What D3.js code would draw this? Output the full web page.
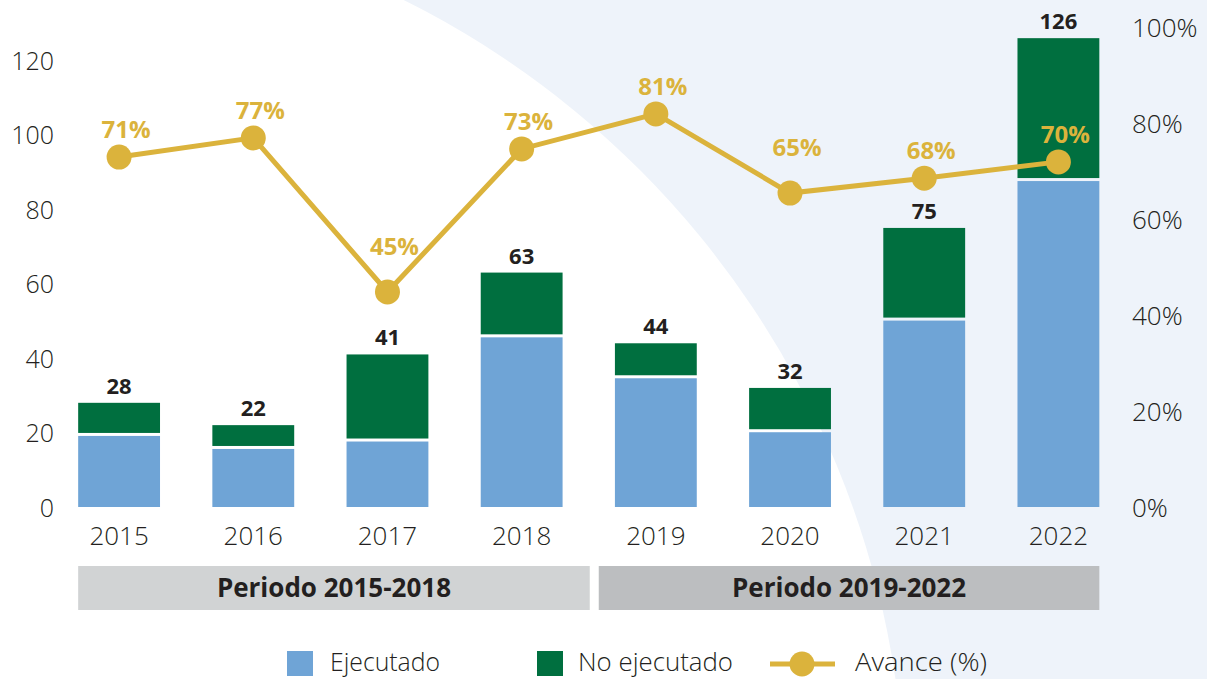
<!DOCTYPE html>
<html>
<head>
<meta charset="utf-8">
<script src="https://cdn.jsdelivr.net/npm/d3@7"></script>
<style>
  body { margin: 0; background: #fff; }
  svg { display: block; }
  .tick text { font-family: "Open Sans", sans-serif; font-weight: 300; fill: #231f20; }
</style>
</head>
<body>
<div id="chart"></div>
<script>
// data
var years = ["2015", "2016", "2017", "2018", "2019", "2020", "2021", "2022"];
var ejecutado = [19.5, 16, 18, 46, 35, 20.5, 50.5, 88];
var noEjecutado = [8.5, 6, 23, 17, 9, 11.5, 24.5, 38];
var totalLabels = ["28", "22", "41", "63", "44", "32", "75", "126"];
var avance = [72.9, 76.9, 44.8, 74.6, 81.9, 65.4, 68.5, 71.9];
var avanceLabels = ["71%", "77%", "45%", "73%", "81%", "65%", "68%", "70%"];
var leftTicks = [0, 20, 40, 60, 80, 100, 120];
var rightTicks = [0, 20, 40, 60, 80, 100];
var periods = ["Periodo 2015-2018", "Periodo 2019-2022"];
var legendLabels = ["Ejecutado", "No ejecutado", "Avance (%)"];

var svgWidth = 1207;
var svgHeight = 679;

var blue = "#6fa4d6";
var green = "#006f3f";
var gold = "#dbb33c";
var ink = "#231f20";

var svg = d3.select("#chart")
  .append("svg")
  .attr("width", svgWidth)
  .attr("height", svgHeight);

// background: light blue area cut by a big white circle
svg.append("rect")
  .attr("width", svgWidth)
  .attr("height", svgHeight)
  .attr("fill", "#eef3fa");

svg.append("circle")
  .attr("cx", 0)
  .attr("cy", 810)
  .attr("r", 905)
  .attr("fill", "#fff");

// scales
var xScale = d3.scaleBand()
  .domain(years)
  .range([52, 1125.5])
  .paddingInner(0.39)
  .paddingOuter(0.195);

var yLeft = d3.scaleLinear()
  .domain([0, 129])
  .range([507, 27]);

var yRight = d3.scaleLinear()
  .domain([0, 100])
  .range([507, 27]);

var cx = d => xScale(d) + xScale.bandwidth() / 2;

// axes (labels only)
var leftAxis = svg.append("g")
  .attr("transform", "translate(54, 0)")
  .call(d3.axisLeft(yLeft).tickValues(leftTicks).tickSize(0).tickPadding(0));
leftAxis.select(".domain").remove();
leftAxis.selectAll("text").attr("font-size", 25).attr("dy", "0.36em");

var rightAxis = svg.append("g")
  .attr("transform", "translate(1132, 0)")
  .call(d3.axisRight(yRight).tickValues(rightTicks).tickSize(0).tickPadding(0)
    .tickFormat(d => d + "%"));
rightAxis.select(".domain").remove();
rightAxis.selectAll("text").attr("font-size", 26).attr("dy", "0.36em");

var xAxis = svg.append("g")
  .attr("transform", "translate(0, 507)")
  .call(d3.axisBottom(xScale).tickSize(0).tickPadding(0));
xAxis.select(".domain").remove();
xAxis.selectAll("text").attr("font-size", 26).attr("dy", "1.45em");

// stacked bars
var gap = 1.5;
var bars = svg.append("g");

bars.selectAll(".ejec")
  .data(years)
  .enter()
  .append("rect")
  .attr("class", "ejec")
  .attr("x", d => xScale(d))
  .attr("width", xScale.bandwidth())
  .attr("y", (d, i) => yLeft(ejecutado[i]) + gap)
  .attr("height", (d, i) => yLeft(0) - yLeft(ejecutado[i]) - gap)
  .attr("fill", blue);

bars.selectAll(".noejec")
  .data(years)
  .enter()
  .append("rect")
  .attr("class", "noejec")
  .attr("x", d => xScale(d))
  .attr("width", xScale.bandwidth())
  .attr("y", (d, i) => yLeft(ejecutado[i] + noEjecutado[i]))
  .attr("height", (d, i) => yLeft(ejecutado[i]) - yLeft(ejecutado[i] + noEjecutado[i]) - gap)
  .attr("fill", green);

// total labels
bars.selectAll(".total")
  .data(years)
  .enter()
  .append("text")
  .attr("class", "total")
  .attr("x", d => cx(d))
  .attr("y", (d, i) => yLeft(ejecutado[i] + noEjecutado[i]) - 9)
  .attr("text-anchor", "middle")
  .attr("font-family", "'Open Sans', sans-serif")
  .attr("font-weight", 700)
  .attr("font-size", 22)
  .attr("fill", ink)
  .text((d, i) => totalLabels[i]);

// avance line
var line = d3.line()
  .x((d, i) => cx(years[i]))
  .y(d => yRight(d));

svg.append("path")
  .datum(avance)
  .attr("d", line)
  .attr("fill", "none")
  .attr("stroke", gold)
  .attr("stroke-width", 5);

svg.selectAll(".dot")
  .data(avance)
  .enter()
  .append("circle")
  .attr("class", "dot")
  .attr("cx", (d, i) => cx(years[i]))
  .attr("cy", d => yRight(d))
  .attr("r", 12.5)
  .attr("fill", gold);

// a point lower than both neighbours gets its label lifted into the V
function isDip(i) {
  return i > 0 && i < avance.length - 1 && avance[i] < avance[i - 1] && avance[i] < avance[i + 1];
}

svg.selectAll(".pct")
  .data(avance)
  .enter()
  .append("text")
  .attr("class", "pct")
  .attr("x", (d, i) => cx(years[i]) + 7)
  .attr("y", (d, i) => yRight(d) - (isDip(i) ? 37 : 19))
  .attr("text-anchor", "middle")
  .attr("font-family", "'Open Sans', sans-serif")
  .attr("font-weight", 700)
  .attr("font-size", 24)
  .attr("fill", gold)
  .text((d, i) => avanceLabels[i]);

// period bands
var mid = (xScale("2018") + xScale.bandwidth() + xScale("2019")) / 2;
var bands = [
  { x0: xScale("2015"), x1: mid + 1, fill: "#d1d3d4" },
  { x0: mid + 10, x1: xScale("2022") + xScale.bandwidth(), fill: "#bcbec0" }
];

bands.forEach(function (b, i) {
  svg.append("rect")
    .attr("x", b.x0)
    .attr("y", 566)
    .attr("width", b.x1 - b.x0)
    .attr("height", 44)
    .attr("fill", b.fill);
  svg.append("text")
    .attr("x", (b.x0 + b.x1) / 2)
    .attr("y", 597)
    .attr("text-anchor", "middle")
    .attr("font-family", "'Open Sans', sans-serif")
    .attr("font-weight", 700)
    .attr("font-size", 26)
    .attr("fill", ink)
    .text(periods[i]);
});

// legend
var legend = svg.append("g")
  .attr("font-family", "'Open Sans', sans-serif")
  .attr("font-weight", 300)
  .attr("font-size", 25)
  .attr("fill", ink);

legend.append("rect").attr("x", 287).attr("y", 651).attr("width", 26).attr("height", 25).attr("fill", blue);
legend.append("text").attr("x", 330).attr("y", 671)
  .attr("textLength", 110).attr("lengthAdjust", "spacingAndGlyphs").text(legendLabels[0]);

legend.append("rect").attr("x", 537).attr("y", 651).attr("width", 26).attr("height", 25).attr("fill", green);
legend.append("text").attr("x", 578).attr("y", 671)
  .attr("textLength", 155).attr("lengthAdjust", "spacingAndGlyphs").text(legendLabels[1]);

legend.append("line").attr("x1", 770).attr("x2", 835).attr("y1", 664).attr("y2", 664)
  .attr("stroke", gold).attr("stroke-width", 5);
legend.append("circle").attr("cx", 802).attr("cy", 664).attr("r", 12.5).attr("fill", gold);
legend.append("text").attr("x", 855).attr("y", 671)
  .attr("textLength", 132).attr("lengthAdjust", "spacingAndGlyphs").text(legendLabels[2]);
</script>
</body>
</html>
